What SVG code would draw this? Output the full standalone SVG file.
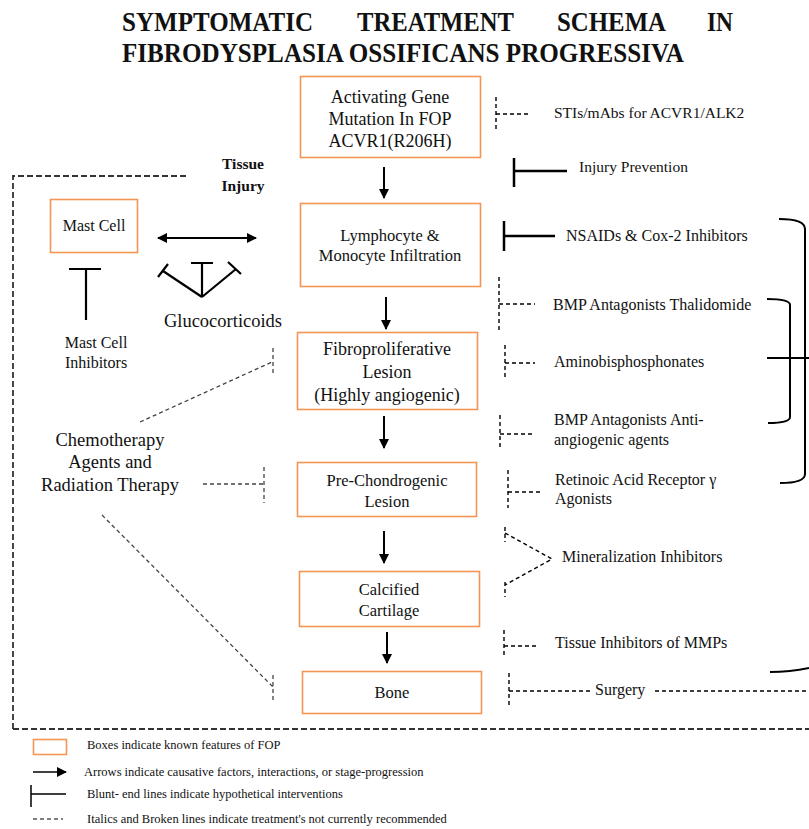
<svg xmlns="http://www.w3.org/2000/svg" width="809" height="829" viewBox="0 0 809 829">
<defs>
<marker id="ah" viewBox="0 0 10 10" refX="9" refY="5" markerWidth="10" markerHeight="10" markerUnits="userSpaceOnUse" orient="auto-start-reverse">
<path d="M0,0 L10,5 L0,10 Z" fill="#000"/>
</marker>
<style>
text{font-family:"Liberation Serif","Times New Roman",serif;fill:#111}
.title{font-size:27.5px;font-weight:bold}
.box{fill:#fff;stroke:#F39655;stroke-width:1.6}
.t18{font-size:18px;text-anchor:middle}
.t17{font-size:16.5px;text-anchor:middle}
.r{font-size:16px}
.lg{font-size:12.5px}
.arrow{stroke:#000;stroke-width:2;fill:none;marker-end:url(#ah)}
.blunt{stroke:#000;stroke-width:2.5;fill:none}
.dash{stroke:#000;stroke-width:1.4;fill:none;stroke-dasharray:4 3}
.dashg{stroke:#444;stroke-width:1.3;fill:none;stroke-dasharray:4 3}
.frame{stroke:#333;stroke-width:1.8;fill:none;stroke-dasharray:6 3}
.brk{stroke:#000;stroke-width:2;fill:none}
</style>
</defs>
<rect width="809" height="829" fill="#fff"/>

<g id="title">
<text class="title" x="122" y="31" textLength="191" lengthAdjust="spacingAndGlyphs">SYMPTOMATIC</text>
<text class="title" x="357" y="31" textLength="157" lengthAdjust="spacingAndGlyphs">TREATMENT</text>
<text class="title" x="557" y="31" textLength="109" lengthAdjust="spacingAndGlyphs">SCHEMA</text>
<text class="title" x="707" y="31" textLength="26" lengthAdjust="spacingAndGlyphs">IN</text>
<text class="title" x="122" y="62" textLength="562" lengthAdjust="spacingAndGlyphs">FIBRODYSPLASIA OSSIFICANS PROGRESSIVA</text>
</g>

<g id="frame">
<path class="frame" d="M186,176 L13,176 L13,729"/>
<path class="frame" d="M13,729 L809,729"/>
</g>

<g id="node-mutation">
<rect class="box" x="300.5" y="76.5" width="180" height="81"/>
<text class="t18" x="390" y="103">Activating Gene</text>
<text class="t18" x="390" y="125">Mutation In FOP</text>
<text class="t18" x="390" y="147">ACVR1(R206H)</text>
</g>

<g id="node-lymphocyte">
<rect class="box" x="300.5" y="203.5" width="180" height="83"/>
<text class="t17" x="390" y="241">Lymphocyte &amp;</text>
<text class="t17" x="390" y="261">Monocyte Infiltration</text>
</g>

<g id="node-fibro">
<rect class="box" x="297.5" y="332.5" width="180" height="77"/>
<text class="t18" x="387" y="355">Fibroproliferative</text>
<text class="t18" x="387" y="378">Lesion</text>
<text class="t18" x="387" y="401">(Highly angiogenic)</text>
</g>

<g id="node-prechondro">
<rect class="box" x="297.5" y="462.5" width="179" height="54"/>
<text class="t17" x="387" y="486">Pre-Chondrogenic</text>
<text class="t17" x="387" y="507">Lesion</text>
</g>

<g id="node-calcified">
<rect class="box" x="299.5" y="571.5" width="180" height="55"/>
<text class="t17" x="389" y="595">Calcified</text>
<text class="t17" x="389" y="616">Cartilage</text>
</g>

<g id="node-bone">
<rect class="box" x="302.5" y="671.5" width="179" height="42"/>
<text class="t17" x="392" y="698">Bone</text>
</g>

<g id="node-mastcell">
<rect class="box" x="50.5" y="199.5" width="87" height="53"/>
<text class="t17" x="94" y="231" style="font-size:16px">Mast Cell</text>
</g>

<g id="tissue-injury">
<text x="243" y="169" style="font-size:15.5px;font-weight:bold;text-anchor:middle">Tissue</text>
<text x="243" y="191" style="font-size:15.5px;font-weight:bold;text-anchor:middle">Injury</text>
</g>

<g id="mastcell-inhibitors">
<path class="blunt" d="M69,269 L101,269 M86,269 L86,320" style="stroke-width:2.2"/>
<text x="96" y="348" style="font-size:16px;text-anchor:middle">Mast Cell</text>
<text x="96" y="368" style="font-size:16px;text-anchor:middle">Inhibitors</text>
</g>

<g id="glucocorticoids">
<path class="blunt" style="stroke-width:2.2" d="M202,297 L163,271 M158,277 L168,264 M202,297 L202,263 M191,263 L213,263 M202,297 L236,269 M228,262 L241,274"/>
<text x="223" y="327" style="font-size:18.5px;text-anchor:middle">Glucocorticoids</text>
</g>

<g id="chemotherapy">
<text x="110" y="446" style="font-size:18.5px;text-anchor:middle">Chemotherapy</text>
<text x="110" y="468" style="font-size:18.5px;text-anchor:middle">Agents and</text>
<text x="110" y="491" style="font-size:18.5px;text-anchor:middle">Radiation Therapy</text>
</g>

<g id="right-labels">
<text class="r" x="554" y="118" style="font-size:15.5px">STIs/mAbs for ACVR1/ALK2</text>
<text class="r" x="579" y="172" style="font-size:15.5px">Injury Prevention</text>
<text class="r" x="566" y="241">NSAIDs &amp; Cox-2 Inhibitors</text>
<text class="r" x="553" y="310">BMP Antagonists Thalidomide</text>
<text class="r" x="554" y="367">Aminobisphosphonates</text>
<text class="r" x="554" y="425">BMP Antagonists Anti-</text>
<text class="r" x="554" y="445">angiogenic agents</text>
<text class="r" x="555" y="485">Retinoic Acid Receptor γ</text>
<text class="r" x="555" y="504">Agonists</text>
<text class="r" x="562" y="562">Mineralization Inhibitors</text>
<text class="r" x="555" y="648">Tissue Inhibitors of MMPs</text>
<text class="r" x="595" y="695">Surgery</text>
</g>

<g id="connectors">
<path class="arrow" d="M384,167 L384,198"/>
<path class="arrow" d="M386,297 L386,329"/>
<path class="arrow" d="M384,416 L384,448"/>
<path class="arrow" d="M384,531 L384,563"/>
<path class="arrow" d="M387,632 L387,663"/>
<path class="arrow" style="marker-start:url(#ah)" d="M158,238 L256,238"/>

<path class="dash" d="M496,97 L496,131 M496,114 L529,114"/>
<path class="blunt" d="M514,158 L514,187 M514,171 L567,171"/>
<path class="blunt" d="M504,221 L504,251 M504,236 L555,236"/>
<path class="dash" d="M499,277 L499,330 M499,304 L535,304"/>
<path class="dash" d="M505,345 L505,380 M505,363 L535,363"/>
<path class="dash" d="M500,415 L500,450 M500,434 L535,434"/>
<path class="dash" d="M508,470 L508,508 M508,492 L540,492"/>
<path class="dash" d="M505,527 L505,542 M505,533 L552,559 L505,585 M505,582 L505,597"/>
<path class="dash" d="M504,630 L504,658 M504,646 L537,646"/>
<path class="dash" d="M509,673 L509,705 M509,691 L593,691 M655,691 L809,691"/>

<path class="brk" d="M779,219 Q805,219 805,229 L805,474 Q805,483 780,483"/>
<path class="brk" d="M767,299 Q790,299 790,305 L790,417 Q790,423 768,423"/>
<path class="brk" d="M767,358 L809,358"/>
<path class="brk" d="M770,672 Q790,672 809,668"/>

<path class="dashg" d="M140,422 L272,362 M273,348 L273,373"/>
<path class="dashg" d="M203,484 L264,484 M264,467 L264,503"/>
<path class="dashg" d="M102,515 L273,687 M273,675 L273,703"/>
</g>

<g id="legend">
<rect class="box" x="33.5" y="739.5" width="33" height="15"/>
<text class="lg" x="87" y="749">Boxes indicate known features of FOP</text>
<path class="arrow" style="stroke-width:1.5" d="M33,772 L66,772"/>
<text class="lg" x="84" y="776">Arrows indicate causative factors, interactions, or stage-progression</text>
<path class="blunt" style="stroke-width:1.5" d="M31,785 L31,807 M31,794 L66,794"/>
<text class="lg" x="87" y="798">Blunt- end lines indicate hypothetical interventions</text>
<path class="dash" style="stroke-width:1.2" d="M33,819 L63,819"/>
<text class="lg" x="87" y="823">Italics and Broken lines indicate treatment's not currently recommended</text>
</g>
</svg>
